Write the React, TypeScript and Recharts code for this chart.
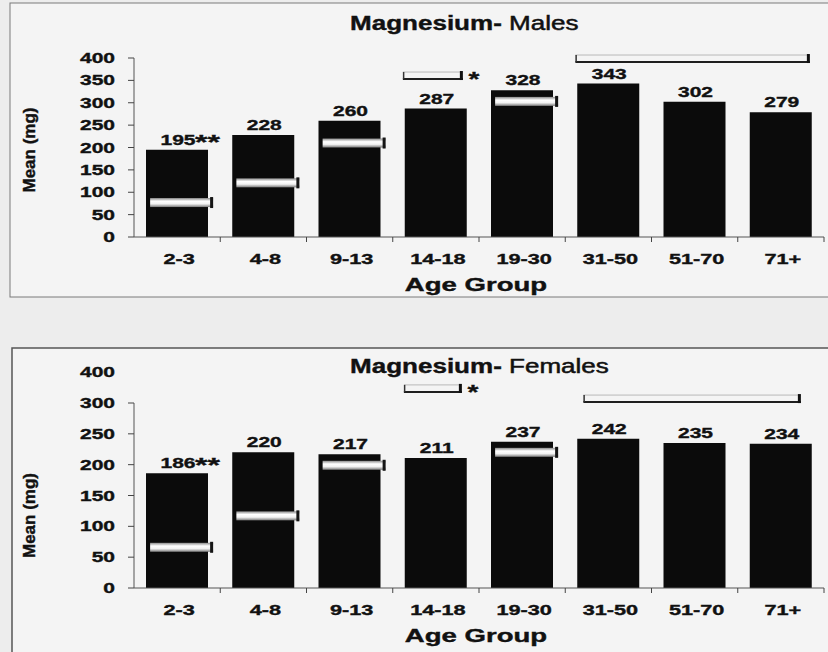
import React from 'react';
import { ComposedChart, Bar, Scatter, XAxis, YAxis, LabelList, ReferenceLine } from 'recharts';

// ---------- data ----------
const categories = ['2-3', '4-8', '9-13', '14-18', '19-30', '31-50', '51-70', '71+'];
const maleMeans = [195, 228, 260, 287, 328, 343, 302, 279];
const femaleMeans = [186, 220, 217, 211, 237, 242, 235, 234];
const maleMarkers = [77, 121, 210, null, 303, null, null, null];
const femaleMarkers = [66, 117, 199, null, 220, null, null, null];
const maleSuffix = ['**', '', '', '', '', '', '', ''];
const femaleSuffix = ['**', '', '', '', '', '', '', ''];
const maleTicks = [0, 50, 100, 150, 200, 250, 300, 350, 400];
const femaleTicks = [0, 50, 100, 150, 200, 250, 300];
const femaleTopLabel = { value: 350, text: '400' };
const maleBrackets = [
  { from: '14-18', to: '14-18', value: 353, star: '*' },
  { from: '31-50', to: '71+', value: 391, star: '' },
];
const femaleBrackets = [
  { from: '14-18', to: '14-18', value: 318, star: '*' },
  { from: '31-50', to: '71+', value: 301.5, star: '' },
];

// ---------- styles ----------
const FONT = "'Liberation Sans', Arial, Helvetica, sans-serif";
const PLOT_LEFT = 134;
const PLOT_RIGHT = 824;
const BAND = (PLOT_RIGHT - PLOT_LEFT) / categories.length;
const BAR_W = 62;
const maleBracketExt = [[33, 27], [33, 29]];
const femaleBracketExt = [[32, 26], [25, 20]];

const build = (means: number[], markers: (number | null)[], suffix: string[]) =>
  categories.map((c, i) => ({ cat: c, mean: means[i], marker: markers[i], suffix: suffix[i] }));

const maleData = build(maleMeans, maleMarkers, maleSuffix);
const femaleData = build(femaleMeans, femaleMarkers, femaleSuffix);

const ST = ({ x, y, sx = 1.5, size = 14, weight = 700, anchor = 'middle', children, fill = '#111', sw = 0.35 }: any) => (
  <text
    transform={`translate(${x},${y}) scale(${sx},1)`}
    textAnchor={anchor}
    fontSize={size}
    fontWeight={weight}
    fontFamily={FONT}
    fill={fill}
    stroke={fill}
    strokeWidth={sw}
  >
    {children}
  </text>
);

const XTick = (p: any) => {
  const { x, y, payload } = p;
  return (
    <g>
      <line x1={x + BAND / 2} x2={x + BAND / 2} y1={y} y2={y + 5} stroke="#444" strokeWidth={1} />
      <ST x={x + 2} y={y + 27} sx={1.55} size={14}>{payload.value}</ST>
    </g>
  );
};

const YTick = (p: any) => {
  const { x, y, payload } = p;
  return (
    <g>
      <line x1={x - 6} x2={x} y1={y} y2={y} stroke="#444" strokeWidth={1} />
      <ST x={x - 19} y={y + 5} anchor="end" sx={1.5} size={14}>{payload.value}</ST>
    </g>
  );
};

const makeBarLabel = (data: any[]) => (p: any) => {
  const { x, y, width, value, index } = p;
  const cx = Number(x) + Number(width) / 2;
  const suf = data[index] ? data[index].suffix : '';
  return (
    <g>
      <ST x={cx + 1} y={Number(y) - 5} sx={1.5} size={14}>{value}</ST>
      {suf ? (
        <ST x={cx + 18} y={Number(y) - 1} anchor="start" sx={1.6} size={20}>{suf}</ST>
      ) : null}
    </g>
  );
};

const makeMarker = (gid: string) => (p: any) => {
  const { cx, cy, payload } = p;
  if (!payload || payload.marker == null || !isFinite(cy)) return <g />;
  const x0 = cx - BAR_W / 2 + 4;
  const w = BAR_W + 1;
  return (
    <g>
      <rect x={x0} y={cy - 4.5} width={w} height={9} fill={`url(#${gid})`} />
      <rect x={x0 + w - 3} y={cy - 5.5} width={3} height={11} fill="#151515" />
    </g>
  );
};

const makeBracket = (extL: number, extR: number, star: string) => (p: any) => {
  const x1 = Math.min(p.x1, p.x2);
  const x2 = Math.max(p.x1, p.x2);
  const y = p.y1;
  const l = x1 - extL;
  const r = x2 + extR;
  return (
    <g>
      <line x1={l} x2={r} y1={y - 7} y2={y - 7} stroke="#b8b8b8" strokeWidth={1} />
      <line x1={l} x2={r} y1={y} y2={y} stroke="#1e1e1e" strokeWidth={2} />
      <line x1={l + 0.75} x2={l + 0.75} y1={y - 7} y2={y} stroke="#333" strokeWidth={1.5} />
      <rect x={r - 3} y={y - 8} width={3} height={9} fill="#111" />
      {star ? <ST x={r + 11} y={y + 7} sx={1.4} size={20}>{star}</ST> : null}
    </g>
  );
};

const topLabelShape = (text: string) => (p: any) => {
  const x = Math.min(p.x1, p.x2);
  return <ST x={x - 19} y={p.y1 + 5} anchor="end" sx={1.5} size={14}>{text}</ST>;
};

const yTitle = (shift: number) => (p: any) => {
  const vb = p.viewBox || {};
  const cy = vb.y + vb.height / 2 + shift;
  return (
    <text
      transform={`translate(${vb.x - 19},${cy}) rotate(-90)`}
      textAnchor="middle"
      fontSize={17}
      fontWeight={700}
      fontFamily={FONT}
      fill="#111"
      stroke="#111"
      strokeWidth={0.4}
    >
      Mean (mg)
    </text>
  );
};

const xTitle = (p: any) => {
  const vb = p.viewBox || {};
  return (
    <ST x={vb.x + vb.width / 2 - 3} y={vb.y + 54} sx={1.45} size={19} sw={0.4}>Age Group</ST>
  );
};

const Gradient = ({ id }: { id: string }) => (
  <defs>
    <linearGradient id={id} x1="0" y1="0" x2="0" y2="1">
      <stop offset="0" stopColor="#8a8a8a" />
      <stop offset="0.35" stopColor="#ffffff" />
      <stop offset="0.65" stopColor="#f2f2f2" />
      <stop offset="1" stopColor="#7a7a7a" />
    </linearGradient>
  </defs>
);

export default function App() {
  return (
    <div
      style={{
        position: 'absolute',
        left: 0,
        top: 0,
        width: 828,
        height: 652,
        background: '#ededed',
        overflow: 'hidden',
      }}
    >
      <svg width={828} height={652} style={{ position: 'absolute', left: 0, top: 0 }}>
        <rect x={10} y={3} width={830} height={294} fill="#f4f4f4" stroke="#7a7a7a" strokeWidth={1} />
        <rect x={12} y={348} width={830} height={320} fill="#f4f4f4" stroke="#555" strokeWidth={1.5} />
        <text transform="translate(350,30) scale(1.24,1)" fontSize={21} fontFamily={FONT} fill="#111">
          <tspan fontWeight={700} stroke="#111" strokeWidth={0.4}>Magnesium-</tspan>
          <tspan fontWeight={400} stroke="#111" strokeWidth={0.5}> Males</tspan>
        </text>
        <text transform="translate(350,373) scale(1.24,1)" fontSize={21} fontFamily={FONT} fill="#111">
          <tspan fontWeight={700} stroke="#111" strokeWidth={0.4}>Magnesium-</tspan>
          <tspan fontWeight={400} stroke="#111" strokeWidth={0.5}> Females</tspan>
        </text>
      </svg>

      <div style={{ position: 'absolute', left: 0, top: 0 }}>
        <ComposedChart width={828} height={300} data={maleData} margin={{ top: 58, right: 4, left: 54, bottom: 33 }}>
          <Gradient id="mkM" />
          <XAxis
            dataKey="cat"
            height={30}
            tickSize={0}
            tickMargin={0}
            tickLine={false}
            axisLine={{ stroke: '#555' }}
            tick={<XTick />}
            interval={0}
            label={{ content: xTitle }}
          />
          <YAxis
            width={80}
            domain={[0, 400]}
            ticks={maleTicks}
            tickSize={0}
            tickMargin={0}
            tickLine={false}
            axisLine={{ stroke: '#555' }}
            tick={<YTick />}
            interval={0}
            label={{ content: yTitle(2.5) }}
          />
          <Bar dataKey="mean" fill="#0b0b0b" barSize={BAR_W} isAnimationActive={false}>
            <LabelList dataKey="mean" content={makeBarLabel(maleData)} />
          </Bar>
          <Scatter dataKey="marker" shape={makeMarker('mkM')} isAnimationActive={false} />
          {maleBrackets.map((b, i) => (
            <ReferenceLine
              key={i}
              segment={[{ x: b.from, y: b.value }, { x: b.to, y: b.value }]}
              ifOverflow="visible"
              shape={makeBracket(maleBracketExt[i][0], maleBracketExt[i][1], b.star)}
            />
          ))}
        </ComposedChart>
      </div>

      <div style={{ position: 'absolute', left: 0, top: 300 }}>
        <ComposedChart width={828} height={352} data={femaleData} margin={{ top: 103, right: 4, left: 54, bottom: 34 }}>
          <Gradient id="mkF" />
          <XAxis
            dataKey="cat"
            height={30}
            tickSize={0}
            tickMargin={0}
            tickLine={false}
            axisLine={{ stroke: '#555' }}
            tick={<XTick />}
            interval={0}
            label={{ content: xTitle }}
          />
          <YAxis
            width={80}
            domain={[0, 300]}
            ticks={femaleTicks}
            tickSize={0}
            tickMargin={0}
            tickLine={false}
            axisLine={{ stroke: '#555' }}
            tick={<YTick />}
            interval={0}
            label={{ content: yTitle(20) }}
          />
          <Bar dataKey="mean" fill="#0b0b0b" barSize={BAR_W} isAnimationActive={false}>
            <LabelList dataKey="mean" content={makeBarLabel(femaleData)} />
          </Bar>
          <Scatter dataKey="marker" shape={makeMarker('mkF')} isAnimationActive={false} />
          <ReferenceLine
            y={femaleTopLabel.value}
            ifOverflow="visible"
            stroke="none"
            shape={topLabelShape(femaleTopLabel.text)}
          />
          {femaleBrackets.map((b, i) => (
            <ReferenceLine
              key={i}
              segment={[{ x: b.from, y: b.value }, { x: b.to, y: b.value }]}
              ifOverflow="visible"
              shape={makeBracket(femaleBracketExt[i][0], femaleBracketExt[i][1], b.star)}
            />
          ))}
        </ComposedChart>
      </div>
    </div>
  );
}
